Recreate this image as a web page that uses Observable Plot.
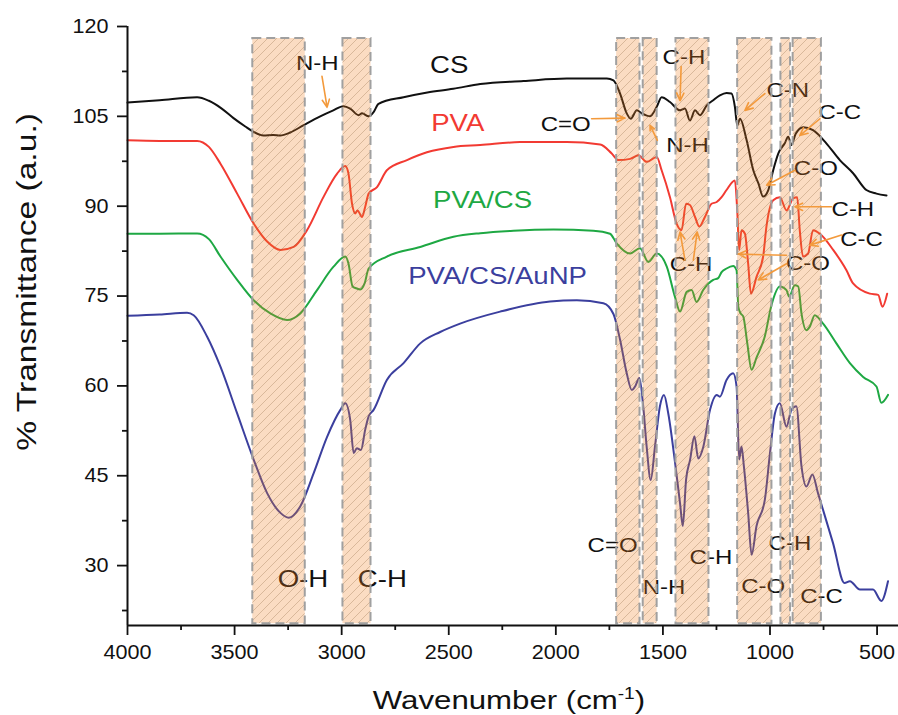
<!DOCTYPE html>
<html><head><meta charset="utf-8">
<script src="https://cdn.jsdelivr.net/npm/d3@7"></script>
<script src="https://cdn.jsdelivr.net/npm/@observablehq/plot@0.6"></script>
<style>html,body{margin:0;padding:0;background:#fff;}</style>
</head><body><div id="chart"></div>
<script>
// ---- data: [wavenumber (cm-1), % transmittance] ----
const cs = [[4000,107.3],[3850,107.7],[3675,108.2],[3620,107.6],[3560,106.3],[3505,104.7],[3450,103.3],[3411,102.4],[3365,101.8],[3320,101.9],[3287,101.8],[3240,102.3],[3179,103.5],[3100,105.0],[3039,106.0],[2992,106.7],[2960,106.3],[2921,105.2],[2905,105.5],[2874,105.0],[2851,105.7],[2828,107.1],[2711,108.2],[2600,109.0],[2479,109.6],[2353,110.4],[2151,110.9],[1949,111.3],[1762,111.3],[1731,111.0],[1700,108.8],[1669,105.5],[1650,104.6],[1622,106.0],[1599,105.5],[1560,105.0],[1529,106.6],[1506,108.2],[1467,107.4],[1420,106.0],[1397,106.3],[1374,104.3],[1350,106.0],[1327,105.2],[1296,106.8],[1265,107.7],[1234,108.5],[1203,108.9],[1180,108.8],[1164,106.6],[1153,103.5],[1140,104.6],[1109,101.0],[1078,96.0],[1054,93.8],[1032,91.6],[1008,92.7],[985,96.0],[961,98.8],[931,100.5],[915,101.6],[900,100.2],[880,102.1],[845,103.2],[799,102.7],[737,100.5],[674,97.7],[612,95.5],[550,92.7],[503,92.1],[456,91.8]];
const pva = [[4000,101.0],[3850,100.9],[3675,100.9],[3620,99.9],[3566,97.1],[3488,92.1],[3411,87.1],[3348,84.1],[3286,82.7],[3224,83.2],[3162,86.0],[3084,91.6],[3022,95.4],[2983,96.7],[2968,95.4],[2952,90.5],[2936,88.8],[2926,89.3],[2905,88.2],[2890,89.9],[2874,92.1],[2835,93.2],[2789,96.0],[2695,97.7],[2602,99.0],[2478,99.9],[2353,100.2],[2167,100.7],[1949,100.7],[1793,100.3],[1739,98.8],[1708,97.7],[1653,97.9],[1614,98.5],[1576,97.4],[1529,98.2],[1506,96.0],[1467,91.5],[1436,87.1],[1413,86.0],[1392,90.4],[1374,90.2],[1350,88.2],[1330,86.6],[1304,88.2],[1273,90.4],[1249,90.7],[1226,91.5],[1203,92.7],[1164,94.3],[1153,89.3],[1144,82.7],[1133,86.0],[1117,85.4],[1102,80.4],[1089,75.4],[1063,78.2],[1032,81.6],[1017,86.5],[985,91.0],[954,91.5],[923,89.3],[892,91.3],[873,91.5],[861,86.0],[846,81.6],[822,82.1],[799,86.0],[767,85.4],[705,82.7],[643,79.3],[612,77.1],[534,75.4],[495,75.2],[475,73.2],[453,75.4]];
const pvaCs = [[4000,85.4],[3850,85.4],[3675,85.45],[3620,84.5],[3566,81.6],[3488,77.7],[3411,74.3],[3333,72.1],[3255,71.0],[3193,72.1],[3115,76.0],[3038,79.9],[2983,81.6],[2968,80.4],[2949,76.6],[2932,76.3],[2913,76.1],[2893,77.1],[2874,79.6],[2789,81.6],[2633,83.2],[2478,84.9],[2353,85.5],[2198,85.9],[2011,86.1],[1825,85.9],[1747,85.4],[1716,83.8],[1653,82.1],[1607,83.0],[1568,80.7],[1529,82.1],[1482,79.9],[1444,74.9],[1420,72.4],[1389,75.7],[1366,76.0],[1343,74.0],[1312,76.0],[1265,77.7],[1242,78.0],[1226,79.0],[1203,79.6],[1172,80.0],[1156,79.3],[1148,73.2],[1137,72.1],[1125,71.6],[1106,67.1],[1086,62.7],[1063,64.7],[1024,68.3],[993,73.5],[954,76.6],[923,76.0],[911,74.9],[884,76.8],[868,76.6],[853,72.1],[830,69.3],[814,69.9],[791,71.8],[752,70.4],[690,67.1],[627,63.8],[565,61.5],[503,59.9],[480,57.2],[449,58.5]];
const pvaCsAu = [[4000,71.7],[3850,71.9],[3722,72.2],[3691,71.8],[3628,68.2],[3566,63.2],[3488,55.4],[3411,47.7],[3348,42.1],[3286,38.8],[3247,38.0],[3193,39.9],[3131,45.4],[3068,51.5],[3006,56.0],[2983,57.1],[2960,54.3],[2944,48.8],[2929,49.6],[2910,49.3],[2890,52.7],[2874,54.9],[2851,56.0],[2789,61.0],[2711,63.8],[2633,67.1],[2540,69.0],[2447,70.4],[2260,72.4],[2027,74.1],[1902,74.3],[1778,73.8],[1731,72.0],[1700,67.7],[1669,62.1],[1645,59.3],[1630,59.9],[1610,61.3],[1592,56.6],[1576,49.9],[1557,44.3],[1537,49.9],[1514,56.6],[1495,58.5],[1475,55.4],[1443,47.1],[1420,40.4],[1407,36.6],[1392,44.3],[1373,47.7],[1353,51.6],[1335,47.9],[1311,49.9],[1280,56.0],[1249,58.5],[1234,58.2],[1203,61.0],[1172,62.1],[1156,59.9],[1144,47.7],[1133,49.9],[1122,46.6],[1102,38.8],[1086,31.8],[1063,36.6],[1024,41.0],[1000,48.8],[977,55.4],[954,57.1],[923,53.2],[900,56.0],[877,56.6],[853,46.6],[830,43.2],[802,45.2],[776,42.1],[706,33.8],[652,27.1],[627,27.4],[580,26.0],[519,26.0],[480,24.1],[449,27.4]];

const seriesNames = ["CS", "PVA", "PVA/CS", "PVA/CS/AuNP"];
const seriesData = [cs, pva, pvaCs, pvaCsAu];
const seriesColors = ["#111111", "#f23a32", "#1ea843", "#3b3f9e"];
const seriesLabelW = [2498, 2458, 2342, 2272];
const seriesLabelT = [113.5, 103.75, 90.9, 78.25];

// shaded bands [from, to] in cm-1
const bands = [[3415,3170],[2994,2863],[1716,1607],[1592,1527],[1439,1285],[1151,991],[949,904],[892,760]];

// annotation labels
const annText = ["N-H","C=O","C-H","N-H","C-N","C-C","C-O","C-H","C-C","C-O","C-H","C=O","N-H","C-H","C-O","C-H","C-C"];
const annW    = [3114, 1954, 1402, 1385, 917, 674, 786, 613, 573, 823, 1369, 1735, 1495, 1276, 1032, 907, 759];
const annT    = [113.8, 103.7, 114.75, 100.2, 109.3, 105.6, 96.2, 89.5, 84.5, 80.5, 80.2, 33.4, 26.4, 31.4, 26.55, 33.7, 24.75];
const bigText = ["O-H", "C-H"];
const bigW = [3181, 2810];
const bigT = [27.7, 27.7];
// arrows [x1, y1, x2, y2]
const arrows = [[3092,111.7,3068,106.5],[1833,104.6,1677,104.7],[1415,113.3,1420,107.6],[1526,101.0,1560,103.5],[1024,108.8,1117,106.0],[767,104.6,861,101.8],[884,96.0,1016,93.5],[713,89.9,884,89.9],[666,85.2,814,83.5],[923,81.8,1148,82.0],[923,80.4,1055,77.7],[1397,81.0,1420,85.7],[1358,81.0,1340,85.7]];

const xMajor = [4000,3500,3000,2500,2000,1500,1000,500];
const xMinor = [3750,3250,2750,2250,1750,1250,750];
const yMajor = [30,45,60,75,90,105,120];
const yMinor = [22.5,37.5,52.5,67.5,82.5,97.5,112.5];
const xTitle = "Wavenumber (cm-1)";
const yTitle = "% Transmittance (a.u.)";

const marks = [];
seriesData.forEach((s, i) => {
  marks.push(Plot.line(s, {x: d => d[0], y: d => d[1], stroke: seriesColors[i], strokeWidth: 2, curve: "monotone-x"}));
  marks.push(Plot.text([seriesNames[i]], {x: () => seriesLabelW[i], y: () => seriesLabelT[i], text: d => d, fill: seriesColors[i], fontSize: 23}));
});
marks.push(Plot.text(annText, {x: (d, i) => annW[i], y: (d, i) => annT[i], text: d => d, fill: "#111", fontSize: 20}));
marks.push(Plot.text(bigText, {x: (d, i) => bigW[i], y: (d, i) => bigT[i], text: d => d, fill: "#111", fontSize: 23}));
marks.push(Plot.rect(bands, {x1: d => d[0], x2: d => d[1], y1: 20.3, y2: 118, fill: "url(#hatch)", stroke: "#a0a0a0", strokeWidth: 2, strokeDasharray: "9,5"}));
marks.push(Plot.arrow(arrows, {x1: d => d[0], y1: d => d[1], x2: d => d[2], y2: d => d[3], stroke: "#f39a3c", strokeWidth: 1.6, headLength: 8, headAngle: 50}));
marks.push(Plot.axisX(xMinor, {tickSize: 5, tickFormat: () => "", label: null, strokeWidth: 1.8}));
marks.push(Plot.axisX(xMajor, {tickSize: 10, tickPadding: 9, fontSize: 20, label: null, strokeWidth: 1.8, tickFormat: d => String(d)}));
marks.push(Plot.axisY(yMinor, {tickSize: 5, tickFormat: () => "", label: null, strokeWidth: 1.8}));
marks.push(Plot.axisY(yMajor, {tickSize: 10, tickPadding: 9, fontSize: 20, label: null, strokeWidth: 1.8, tickFormat: d => String(d)}));
marks.push(Plot.ruleX([4000], {strokeWidth: 2}));
marks.push(Plot.ruleY([20], {strokeWidth: 2}));
marks.push(Plot.text([yTitle], {text: d => d, frameAnchor: "left", textAnchor: "middle", dx: -100, dy: -44, rotate: -90, fontSize: 28, fill: "#111"}));
marks.push(Plot.text([xTitle], {text: d => d, frameAnchor: "bottom", textAnchor: "middle", dx: -4, dy: 83, lineAnchor: "bottom", fontSize: 26, fill: "#111"}));

const svg = Plot.plot({
  width: 898, height: 715,
  marginLeft: 127, marginRight: 0, marginTop: 26, marginBottom: 90,
  x: {domain: [4000, 400], axis: null},
  y: {domain: [20, 120], axis: null},
  style: {fontFamily: "'Liberation Sans', Arial, Helvetica, sans-serif", color: "#111", background: "#fff"},
  marks
});

const ns = "http://www.w3.org/2000/svg";
const defs = document.createElementNS(ns, "defs");
defs.innerHTML = '<pattern id="hatch" patternUnits="userSpaceOnUse" width="9" height="9">' +
  '<rect width="9" height="9" fill="rgb(240,125,30)" fill-opacity="0.27"></rect>' +
  '<path d="M-2,2 L2,-2 M0,9 L9,0 M7,11 L11,7" stroke="rgb(140,100,60)" stroke-opacity="0.3" stroke-width="1"></path></pattern>';
svg.insertBefore(defs, svg.firstChild);

svg.querySelectorAll("text").forEach(t => {
  const lbl = (t.parentNode.getAttribute("aria-label") || "");
  const sx = lbl.includes("tick label") ? 1.08 : 1.2;
  const tr = t.getAttribute("transform");
  if (tr) t.setAttribute("transform", tr + ` scale(${sx},1)`);
  else {
    const x = +t.getAttribute("x") || 0, y = +t.getAttribute("y") || 0;
    t.setAttribute("transform", `translate(${x},${y}) scale(${sx},1) translate(${-x},${-y})`);
  }
  if (t.textContent === xTitle) {
    t.textContent = "Wavenumber (cm";
    const sup = document.createElementNS(ns, "tspan");
    sup.setAttribute("dy", "-10"); sup.setAttribute("font-size", "16"); sup.textContent = "-1";
    const close = document.createElementNS(ns, "tspan");
    close.setAttribute("dy", "10"); close.textContent = ")";
    t.append(sup, close);
  }
});

document.getElementById("chart").appendChild(svg);
</script>
</body></html>
